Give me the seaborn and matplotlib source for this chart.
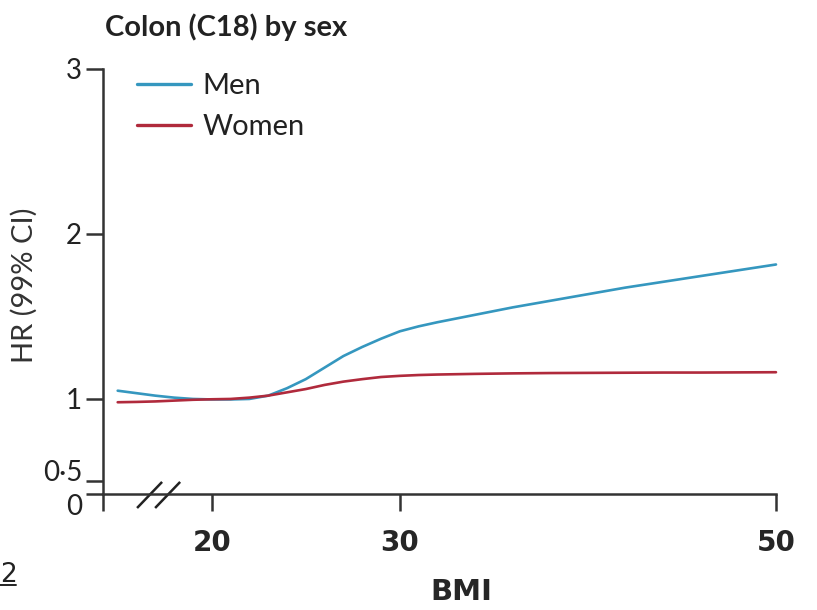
import matplotlib
matplotlib.use("Agg")
import matplotlib.pyplot as plt
from matplotlib.lines import Line2D
import numpy as np
import pandas as pd
import seaborn as sns

# Hazard ratio curves for colon cancer by BMI
bmi = [15, 16, 17, 18, 19, 20, 21, 22, 23, 24, 25, 26, 27, 28, 29, 30,
       31, 32, 34, 36, 38, 40, 42, 44, 46, 48, 50]
hr_men = [1.05, 1.035, 1.02, 1.008, 1.0, 0.997, 0.997, 1.0, 1.02, 1.065,
          1.12, 1.19, 1.26, 1.315, 1.365, 1.41, 1.44, 1.465, 1.51, 1.555,
          1.595, 1.635, 1.675, 1.71, 1.745, 1.78, 1.815]
hr_women = [0.98, 0.982, 0.985, 0.99, 0.995, 0.998, 1.0, 1.008, 1.02, 1.04,
            1.06, 1.085, 1.105, 1.12, 1.133, 1.14, 1.145, 1.148, 1.152,
            1.155, 1.157, 1.158, 1.159, 1.16, 1.16, 1.161, 1.162]
sexes = ["Men", "Women"]
colors = {"Men": "#3597bf", "Women": "#b02a3c"}

x_ticks = [20, 30, 50]
y_ticks = [0.5, 1, 2, 3]
y_tick_labels = ["0·5", "1", "2", "3"]

# broken-axis positions (left end of x axis and the "0" of the y axis)
x_axis_start = 14.22
y_zero_pos = 0.424

df = pd.DataFrame({
    "BMI": bmi * 2,
    "HR": hr_men + hr_women,
    "sex": ["Men"] * len(bmi) + ["Women"] * len(bmi),
})

sns.set_theme(style="ticks")
plt.rcParams["font.family"] = ["Lato", "DejaVu Sans"]

fig = plt.figure(figsize=(8.17, 6.10), dpi=100)
ax = fig.add_axes([0.1261, 0.1902, 0.8237, 0.6967])

sns.lineplot(data=df, x="BMI", y="HR", hue="sex", hue_order=sexes,
             palette=colors, linewidth=1.9, ax=ax, clip_on=False)

ax.set_xlim(x_axis_start, 50)
ax.set_ylim(y_zero_pos, 3)

ax.set_xticks([x_axis_start] + x_ticks)
ax.set_xticklabels([""] + [str(t) for t in x_ticks],
                   fontfamily="DejaVu Sans", fontweight="bold", fontsize=20)
ax.set_yticks([y_zero_pos] + y_ticks)
ax.set_yticklabels(["0"] + y_tick_labels, fontsize=20, color="#222222")
# the "0" sits just below the x axis, the "0·5" just above its tick
ylabels = ax.get_yticklabels()
ylabels[0].set_va("top")
ylabels[1].set_va("baseline")

ax.tick_params(axis="both", length=12, width=1.8, color="#333333")
ax.tick_params(axis="x", pad=13)
ax.tick_params(axis="y", pad=3)
for side in ["top", "right"]:
    ax.spines[side].set_visible(False)
for side in ["left", "bottom"]:
    ax.spines[side].set_linewidth(1.8)
    ax.spines[side].set_color("#333333")

ax.set_xlabel("BMI", fontfamily="DejaVu Sans", fontweight="bold",
              fontsize=21, va="center")
ax.xaxis.set_label_coords(0.533, -0.231)
ax.set_ylabel("HR (99% CI)", fontsize=21, color="#333333")
ax.yaxis.set_label_coords(-0.097, 0.49)

# axis break marks
for x0 in (16.03, 16.99):
    ax.plot([x0, x0 + 1.33], [0.339, 0.497], color="#222222", lw=1.8,
            clip_on=False, solid_capstyle="butt")

fig.text(0.1285, 0.9557, "Colon (C18) by sex", fontsize=21,
         fontweight="bold", color="#222222", ha="left", va="center")

leg = ax.legend(title=None, frameon=False, loc="upper left",
                bbox_to_anchor=(0.05, 0.99), borderaxespad=0, borderpad=0,
                fontsize=21, handlelength=1.85, handletextpad=0.4,
                labelspacing=0.52)
for line in leg.get_lines():
    line.set_linewidth(2.4)
for txt in leg.get_texts():
    txt.set_color("#222222")

# stray page marker at lower left
fig.text(0.0, 0.046, "2", fontfamily="DejaVu Sans", fontsize=19,
         color="#222222", ha="left", va="baseline")
fig.add_artist(Line2D([0.0, 0.02], [0.041, 0.041], color="#222222", lw=1.4,
                      transform=fig.transFigure))

fig.savefig("out.png", dpi=100)
